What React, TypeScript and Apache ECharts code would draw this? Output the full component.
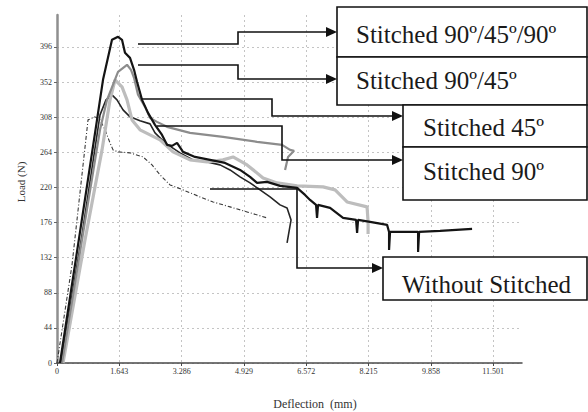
import React, { useEffect, useRef } from 'react';
import * as echarts from 'echarts';

const seriesNames = ['Stitched 90º/45º/90º', 'Stitched 90º/45º', 'Stitched 45º', 'Stitched 90º', 'Without Stitched'];
const xTickLabels = ['0', '1.643', '3.286', '4.929', '6.572', '8.215', '9.858', '11.501'];
const yTickLabels = ['0', '44', '88', '132', '176', '220', '264', '308', '352', '396'];
const xStep = 1.643;
const yStep = 44;
const xMax = 12.26;
const yMax = 436;

const stitched904590: number[][] = [
  [0.079, 0], [0.607, 164.2], [1.055, 304.6], [1.213, 354.8], [1.45, 404.9], [1.609, 408.7],
  [1.714, 404.9], [1.793, 388.6], [1.925, 382.3], [2.031, 367.3], [2.11, 352.3], [2.242, 329.7],
  [2.4, 313.4], [2.584, 298.4], [2.769, 285.8], [2.901, 273.3], [3.033, 272.0], [3.165, 275.8],
  [3.323, 264.5], [3.639, 258.2], [4.035, 254.5], [4.431, 250.7], [4.826, 241.9], [5.09, 233.2],
  [5.274, 225.6], [5.538, 226.9], [5.881, 221.9], [6.329, 219.4], [6.54, 210.6], [6.672, 204.3],
  [6.83, 198.1], [6.856, 181.8], [6.883, 198.1], [7.2, 194.3], [7.542, 181.8], [7.885, 179.3],
  [7.912, 163.0], [7.938, 179.3], [8.254, 176.8], [8.703, 173.0], [8.755, 164.2], [8.755, 141.7],
  [8.781, 164.2], [9.177, 164.2], [9.52, 164.2], [9.52, 139.1], [9.547, 164.2], [10.1, 165.5],
  [10.944, 168.0],
];

const stitched9045: number[][] = [
  [0.132, 0], [0.659, 154.2], [1.134, 292.1], [1.319, 329.7], [1.609, 364.8], [1.846, 373.6],
  [1.951, 367.3], [2.031, 357.3], [2.136, 336.0], [2.321, 320.9], [2.453, 307.1], [2.637, 302.1],
  [2.901, 295.9], [3.507, 288.3], [4.378, 283.3], [5.274, 277.1], [5.934, 273.3], [6.145, 267.0],
  [6.25, 265.8], [6.092, 258.2], [6.013, 241.9],
];

const stitched45: number[][] = [
  [0.158, 0], [0.738, 154.2], [1.187, 267.0], [1.398, 329.7], [1.53, 354.8], [1.714, 346.0],
  [1.846, 329.7], [1.978, 304.6], [2.189, 292.1], [2.453, 285.8], [2.716, 279.6], [3.059, 264.5],
  [3.507, 254.5], [3.956, 252.0], [4.378, 254.5], [4.641, 258.2], [5.011, 248.2], [5.433, 231.9],
  [5.802, 225.6], [6.329, 221.9], [7.015, 220.6], [7.332, 216.9], [7.648, 201.8], [8.175, 195.6],
  [8.202, 176.8], [8.202, 161.7],
];

const stitched90: number[][] = [
  [0.105, 0], [0.659, 160.5], [1.134, 310.9], [1.292, 329.7], [1.45, 336.0], [1.582, 329.7],
  [1.741, 317.2], [1.925, 308.4], [2.189, 303.4], [2.453, 299.6], [2.584, 288.3], [2.848, 275.8],
  [3.244, 263.3], [3.587, 254.5], [3.956, 252.0], [4.299, 248.2], [4.562, 241.9], [4.826, 233.2],
  [5.09, 225.6], [5.354, 216.9], [5.617, 208.1], [5.881, 198.1], [6.066, 194.3], [6.171, 179.3],
  [6.066, 150.4],
];

const withoutStitched: number[][] = [
  [0, 0], [0.396, 122.9], [0.818, 304.6], [1.002, 308.4], [1.134, 304.6], [1.266, 292.1],
  [1.398, 275.8], [1.477, 267.0], [1.609, 264.5], [1.925, 263.3], [2.268, 258.2], [2.505, 248.2],
  [2.716, 235.7], [2.98, 223.1], [3.323, 216.9], [3.771, 208.1], [4.114, 201.8], [4.562, 195.6],
  [5.011, 189.3], [5.538, 181.8],
];

const seriesData = [stitched904590, stitched9045, stitched45, stitched90, withoutStitched];
const seriesStyles = [
  { color: '#141414', width: 2.2, type: 'solid' as any },
  { color: '#8c8c8c', width: 2.2, type: 'solid' as any },
  { color: '#bdbdbd', width: 3.2, type: 'solid' as any },
  { color: '#262626', width: 1.6, type: 'solid' as any },
  { color: '#3a3a3a', width: 1.1, type: [4, 2, 1, 2] as any },
];

const boxFont = 'Liberation Serif, Times New Roman, serif';

function box(x: number, y: number, w: number, h: number) {
  return {
    type: 'rect',
    shape: { x, y, width: w, height: h },
    style: { fill: '#fff', stroke: '#111', lineWidth: 1.6 },
    z: 10,
  };
}
function label(text: string, x: number, y: number) {
  return {
    type: 'text',
    style: { text, x, y, fontSize: 25, fontFamily: boxFont, fill: '#1a1a1a', verticalAlign: 'middle', align: 'left' },
    z: 12,
  };
}
function connector(points: number[][]) {
  const last = points[points.length - 1];
  const tipX = last[0] + 8;
  return [
    {
      type: 'polyline',
      shape: { points },
      style: { stroke: '#111', lineWidth: 1.6, fill: 'none' },
      z: 11,
    },
    {
      type: 'polygon',
      shape: { points: [[tipX - 11, last[1] - 5], [tipX, last[1]], [tipX - 11, last[1] + 5]] },
      style: { fill: '#111' },
      z: 11,
    },
  ];
}

export default function App() {
  const ref = useRef<HTMLDivElement>(null);
  useEffect(() => {
    if (!ref.current) return;
    const chart = echarts.init(ref.current, null, { renderer: 'svg' });
    const xFormatter = (v: number) => {
      const i = Math.round(v / xStep);
      return Math.abs(v - i * xStep) < 1e-6 && i < xTickLabels.length ? xTickLabels[i] : '';
    };
    const yFormatter = (v: number) => {
      const i = Math.round(v / yStep);
      return Math.abs(v - i * yStep) < 1e-6 && i < yTickLabels.length ? yTickLabels[i] : '';
    };
    chart.setOption({
      animation: false,
      backgroundColor: '#ffffff',
      grid: { left: 57, right: 66, top: 15, bottom: 49, containLabel: false, outerBoundsMode: 'none' } as any,
      xAxis: {
        type: 'value',
        min: 0,
        max: xMax,
        interval: xStep,
        axisLine: { lineStyle: { color: '#4a4a4a', width: 1.5 } },
        axisTick: { show: true, length: 3, lineStyle: { color: '#4a4a4a' } },
        axisLabel: { formatter: xFormatter, fontSize: 8, fontFamily: boxFont, color: '#333', margin: 4, showMaxLabel: false },
        splitLine: { show: true, showMaxLine: false, lineStyle: { color: '#c4c4c4', type: [2, 3], width: 1 } },
      },
      yAxis: {
        type: 'value',
        min: 0,
        max: yMax,
        interval: yStep,
        axisLine: { show: true, lineStyle: { color: '#8f8f8f', width: 2.5 } },
        axisTick: { show: true, length: 3, lineStyle: { color: '#666' } },
        axisLabel: { formatter: yFormatter, fontSize: 8, fontFamily: boxFont, color: '#333', margin: 5, showMaxLabel: false },
        splitLine: { show: true, showMaxLine: false, lineStyle: { color: '#c4c4c4', type: [2, 3], width: 1 } },
      },
      series: seriesData.map((d, i) => ({
        name: seriesNames[i],
        type: 'line',
        data: d,
        showSymbol: false,
        symbol: 'none',
        lineStyle: seriesStyles[i],
        itemStyle: { color: seriesStyles[i].color },
        z: 5 - i,
      })),
      graphic: [
        {
          type: 'text',
          style: { text: 'Load (N)', x: 0, y: 0, fontSize: 11, fontFamily: boxFont, fill: '#333', align: 'center', verticalAlign: 'middle' },
          x: 21,
          y: 182,
          rotation: Math.PI / 2,
        },
        {
          type: 'text',
          style: { text: 'Deflection  (mm)', x: 315, y: 404, fontSize: 12, fontFamily: boxFont, fill: '#333', align: 'center', verticalAlign: 'middle' },
        },
        ...connector([[138, 44], [238, 44], [238, 32], [329, 32]]),
        ...connector([[138, 65], [238, 65], [238, 79], [329, 79]]),
        ...connector([[142, 99], [272, 99], [272, 116], [395, 116]]),
        ...connector([[157, 126], [282, 126], [282, 160], [395, 160]]),
        ...connector([[210, 189], [297, 189], [297, 268], [375, 268]]),
        box(337, 7, 250, 50),
        box(337, 57, 250, 48),
        box(403, 105, 184, 42),
        box(403, 147, 184, 53),
        box(383, 257, 204, 43),
        label('Stitched 90º/45º/90º', 356, 34),
        label('Stitched 90º/45º', 356, 80),
        label('Stitched 45º', 423, 127),
        label('Stitched 90º', 423, 171),
        label('Without Stitched', 402, 284),
      ],
    });
    return () => chart.dispose();
  }, []);
  return <div ref={ref} style={{ position: 'fixed', left: 0, top: 0, width: 588, height: 412, background: '#fff' }} />;
}
